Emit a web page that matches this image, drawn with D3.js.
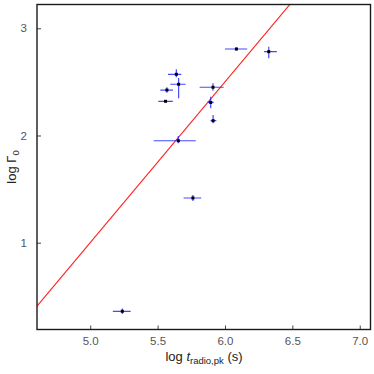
<!DOCTYPE html>
<html><head><meta charset="utf-8">
<script src="https://cdn.jsdelivr.net/npm/d3@7"></script>
<style>body{margin:0;background:#fff}svg{display:block}</style>
</head><body>
<script>
// Data: log t_radio,pk (x), log Gamma0 (y), with asymmetric errors
const xVals   = [6.085, 6.325, 5.911, 5.894, 5.912, 5.654, 5.639, 5.656, 5.569, 5.559, 5.762, 5.238];
const yVals   = [2.807, 2.782, 2.450, 2.308, 2.138, 1.951, 2.571, 2.478, 2.424, 2.319, 1.417, 0.360];
const xErrLo  = [0.085, 0.035, 0.099, 0.022, 0.019, 0.183, 0.062, 0.062, 0.049, 0.054, 0.069, 0.070];
const xErrHi  = [0.080, 0.060, 0.079, 0.022, 0.024, 0.129, 0.037, 0.052, 0.045, 0.054, 0.062, 0.062];
const yErrLo  = [0.015, 0.062, 0.032, 0.054, 0.024, 0.024, 0.028, 0.131, 0.025, 0.010, 0.028, 0.025];
const yErrHi  = [0.015, 0.047, 0.037, 0.054, 0.053, 0.044, 0.047, 0.059, 0.025, 0.010, 0.028, 0.025];
const xTicks = [5.0, 5.5, 6.0, 6.5, 7.0];
const yTicks = [1, 2, 3];
const fitSlope = 1.5, fitIntercept = -6.5;

const W = 374, H = 374;
const m = {left: 37, right: 3.5, top: 4.5, bottom: 44.5};
const svg = d3.select("body").append("svg").attr("width", W).attr("height", H);
const x = d3.scaleLinear().domain([4.605, 7.08]).range([m.left, W - m.right]);
const y = d3.scaleLinear().domain([0.19, 3.222]).range([H - m.bottom, m.top]);

const font = "'Liberation Sans', Arial, sans-serif";
const defs = svg.append("defs");
defs.append("clipPath").attr("id", "clip").append("rect")
  .attr("x", m.left).attr("y", m.top).attr("width", W - m.left - m.right).attr("height", H - m.top - m.bottom);

// fit line
const xd = x.domain();
svg.append("line").attr("clip-path", "url(#clip)")
  .attr("x1", x(xd[0])).attr("y1", y(fitSlope * xd[0] + fitIntercept))
  .attr("x2", x(xd[1])).attr("y2", y(fitSlope * xd[1] + fitIntercept))
  .attr("stroke", "#ff2020").attr("stroke-width", 1.1);

const pts = xVals.map((v, i) => ({x: v, y: yVals[i], xl: xErrLo[i], xh: xErrHi[i], yl: yErrLo[i], yh: yErrHi[i]}));
const g = svg.append("g").attr("clip-path", "url(#clip)");
g.selectAll(".xe").data(pts).join("line")
  .attr("x1", d => x(d.x - d.xl)).attr("x2", d => x(d.x + d.xh))
  .attr("y1", d => y(d.y)).attr("y2", d => y(d.y))
  .attr("stroke", "#2828ff").attr("stroke-width", 1.2).attr("stroke-opacity", 0.85);
g.selectAll(".ye").data(pts).join("line")
  .attr("x1", d => x(d.x)).attr("x2", d => x(d.x))
  .attr("y1", d => y(d.y - d.yl)).attr("y2", d => y(d.y + d.yh))
  .attr("stroke", "#2828ff").attr("stroke-width", 1.2).attr("stroke-opacity", 0.85);
g.selectAll(".pt").data(pts).join("rect")
  .attr("x", d => x(d.x) - 1.5).attr("y", d => y(d.y) - 1.5)
  .attr("width", 3).attr("height", 3).attr("fill", "#000");

// axes
const xAxis = d3.axisBottom(x).tickValues(xTicks).tickFormat(d3.format(".1f")).tickSizeInner(-4).tickSizeOuter(0).tickPadding(7);
const yAxis = d3.axisLeft(y).tickValues(yTicks).tickFormat(d3.format("d")).tickSizeInner(-4).tickSizeOuter(0).tickPadding(10);
const gx = svg.append("g").attr("transform", `translate(0,${H - m.bottom})`).call(xAxis);
const gy = svg.append("g").attr("transform", `translate(${m.left},0)`).call(yAxis);
[gx, gy].forEach(a => {
  a.select(".domain").remove();
  a.selectAll(".tick line").attr("stroke", "#444");
  a.selectAll(".tick text").attr("fill", "#555").style("font-family", font).style("font-size", "11.5px");
});
// frame
svg.append("rect").attr("x", m.left).attr("y", m.top)
  .attr("width", W - m.left - m.right).attr("height", H - m.top - m.bottom)
  .attr("fill", "none").attr("stroke", "#1a1a1a").attr("stroke-width", 1.4);

// labels
const xl = svg.append("text").attr("x", 204).attr("y", 361).attr("text-anchor", "middle")
  .style("font-family", font).style("font-size", "13px").attr("fill", "#222");
xl.append("tspan").text("log ");
xl.append("tspan").attr("font-style", "italic").text("t");
xl.append("tspan").attr("font-size", "9.5px").attr("dy", 3).text("radio,pk");
xl.append("tspan").attr("dy", -3).text(" (s)");

const yl = svg.append("text").attr("transform", "translate(16,167) rotate(-90)").attr("text-anchor", "middle")
  .style("font-family", font).style("font-size", "13px").attr("fill", "#222");
yl.append("tspan").text("log Γ");
yl.append("tspan").attr("font-size", "9.5px").attr("dy", 3).text("0");
</script>
</body></html>
